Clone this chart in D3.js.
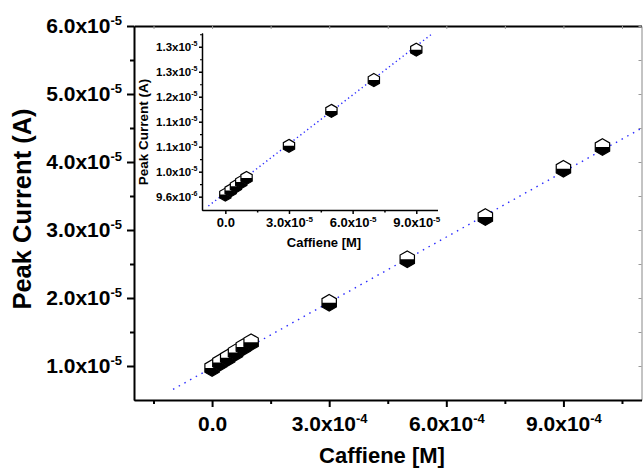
<!DOCTYPE html>
<html>
<head>
<meta charset="utf-8">
<script src="https://cdn.jsdelivr.net/npm/d3@7"></script>
<style>
body { margin: 0; background: #fff; }
svg { display: block; }
text { font-family: "Liberation Sans", Arial, sans-serif; font-weight: bold; fill: #000; }
</style>
</head>
<body>
<svg id="chart" width="643" height="469"></svg>
<script>
"use strict";

// main plot data (caffeine concentration in M, peak current in A)
const mainConc = [0, 2e-5, 4e-5, 6e-5, 8e-5, 1e-4, 3e-4, 5e-4, 7e-4, 9e-4, 1e-3];
const mainCurrent = [0.97e-5, 1.05e-5, 1.12e-5, 1.20e-5, 1.28e-5, 1.35e-5,
                     1.93e-5, 2.57e-5, 3.19e-5, 3.90e-5, 4.22e-5];
const mainFit = [9.76e-6, 0.0320];          // intercept, slope
const mainFitRange = [-1e-4, 1.1e-3];

// inset data
const insetConc = [0, 2.5e-6, 5e-6, 7.5e-6, 1e-5, 3e-5, 5e-5, 7e-5, 9e-5];
const insetCurrent = [9.65e-6, 9.75e-6, 9.85e-6, 9.95e-6, 10.05e-6,
                      10.82e-6, 11.66e-6, 12.40e-6, 13.13e-6];
const insetFit = [9.69e-6, 0.0392];
const insetFitRange = [-0.8e-5, 9.8e-5];

// ticks and labels
const mainXTicks = [0, 3e-4, 6e-4, 9e-4];
const mainXMant = ["0.0", "3.0x10", "6.0x10", "9.0x10"];
const mainXExp = ["", "-4", "-4", "-4"];
const mainXMinor = [-1.5e-4, 1.5e-4, 4.5e-4, 7.5e-4, 1.05e-3];
const mainYTicks = [1e-5, 2e-5, 3e-5, 4e-5, 5e-5, 6e-5];
const mainYMant = ["1.0x10", "2.0x10", "3.0x10", "4.0x10", "5.0x10", "6.0x10"];
const mainYExp = ["-5", "-5", "-5", "-5", "-5", "-5"];
const mainYMinor = [1.5e-5, 2.5e-5, 3.5e-5, 4.5e-5, 5.5e-5];

const insetXTicks = [0, 3e-5, 6e-5, 9e-5];
const insetXMant = ["0.0", "3.0x10", "6.0x10", "9.0x10"];
const insetXExp = ["", "-5", "-5", "-5"];
const insetXMinor = [1.5e-5, 4.5e-5, 7.5e-5];
const insetYTicks = [9.6e-6, 10.2e-6, 10.8e-6, 11.4e-6, 12.0e-6, 12.6e-6, 13.2e-6];
const insetYMant = ["9.6x10", "1.0x10", "1.1x10", "1.1x10", "1.2x10", "1.3x10", "1.3x10"];
const insetYExp = ["-6", "-5", "-5", "-5", "-5", "-5", "-5"];
const insetYMinor = [9.9e-6, 10.5e-6, 11.1e-6, 11.7e-6, 12.3e-6, 12.9e-6, 13.5e-6];

const svg = d3.select("#chart");

function hexPath(r) {
    const w = r * Math.sqrt(3) / 2;
    return d3.line()([[0, -r], [w, -r / 2], [w, r / 2], [0, r], [-w, r / 2], [-w, -r / 2]]) + "Z";
}
function lowerHalf(r) {
    const w = r * Math.sqrt(3) / 2;
    return d3.line()([[-w, 0], [w, 0], [w, r / 2], [0, r], [-w, r / 2]]) + "Z";
}

function labelTicks(g, mant, exp, supSize, supDy) {
    g.selectAll(".tick text").each(function(d, i) {
        const t = d3.select(this).text(null);
        t.append("tspan").text(mant[i]);
        if (exp[i]) t.append("tspan").attr("font-size", supSize).attr("dy", supDy).text(exp[i]);
    });
}

function drawMarkers(xs, ys, xScale, yScale, r) {
    const pts = xs.map((v, i) => [xScale(v), yScale(ys[i])]);
    const g = svg.append("g").selectAll("g").data(pts).join("g")
        .attr("transform", p => `translate(${p[0]},${p[1]})`);
    g.append("path").attr("d", hexPath(r)).attr("fill", "#fff");
    g.append("path").attr("d", lowerHalf(r)).attr("fill", "#000");
    g.append("path").attr("d", hexPath(r)).attr("fill", "none")
        .attr("stroke", "#000").attr("stroke-width", 1.2);
}

function drawFit(fit, range, xScale, yScale, dash) {
    const line = d3.line().x(d => xScale(d)).y(d => yScale(fit[0] + fit[1] * d));
    svg.append("path").attr("d", line(range))
        .attr("fill", "none").attr("stroke", "#2a2aff")
        .attr("stroke-width", 1.4).attr("stroke-dasharray", dash);
}

// ---------- main plot ----------
const x = d3.scaleLinear().domain([-2e-4, 1.1e-3]).range([134, 641.5]);
const y = d3.scaleLinear().domain([0.5e-5, 6e-5]).range([400, 26]);

// top & right frame
const topAx = svg.append("g").attr("transform", "translate(0,26)")
    .call(d3.axisBottom(x).tickValues(mainXTicks.concat(mainXMinor)).tickSize(3).tickSizeOuter(0).tickFormat(""));
topAx.select(".domain").attr("stroke-width", 2);
topAx.selectAll(".tick line").attr("stroke", "#999");
const rightAx = svg.append("g").attr("transform", "translate(641.5,0)")
    .call(d3.axisLeft(y).tickValues(mainYTicks.concat(mainYMinor)).tickSize(3).tickSizeOuter(0).tickFormat(""));
rightAx.select(".domain").attr("stroke", "#888");
rightAx.selectAll(".tick line").attr("stroke", "#999");

// bottom axis
const xMinorAx = svg.append("g").attr("transform", "translate(0,400)")
    .call(d3.axisBottom(x).tickValues(mainXMinor).tickSize(4).tickSizeOuter(0).tickFormat(""));
xMinorAx.selectAll("line").attr("stroke-width", 2);
const xAx = svg.append("g").attr("transform", "translate(0,400)")
    .call(d3.axisBottom(x).tickValues(mainXTicks).tickSize(7).tickSizeOuter(0).tickPadding(9));
xAx.select(".domain").attr("stroke-width", 2);
xAx.selectAll(".tick line").attr("stroke-width", 2);
xAx.selectAll("text").attr("font-size", 21).attr("font-family", null);
labelTicks(xAx, mainXMant, mainXExp, 13, -8);

// left axis
const yMinorAx = svg.append("g").attr("transform", "translate(134,0)")
    .call(d3.axisLeft(y).tickValues(mainYMinor).tickSize(4).tickSizeOuter(0).tickFormat(""));
yMinorAx.selectAll("line").attr("stroke-width", 2);
const yAx = svg.append("g").attr("transform", "translate(134,0)")
    .call(d3.axisLeft(y).tickValues(mainYTicks).tickSize(7).tickSizeOuter(0).tickPadding(5));
yAx.select(".domain").attr("stroke-width", 2);
yAx.selectAll(".tick line").attr("stroke-width", 2);
yAx.selectAll("text").attr("font-size", 21).attr("font-family", null);
labelTicks(yAx, mainYMant, mainYExp, 13, -8);

svg.append("text").attr("x", 382).attr("y", 463).attr("text-anchor", "middle")
    .attr("font-size", 22).text("Caffiene [M]");
svg.append("text").attr("transform", "translate(31,209) rotate(-90)").attr("text-anchor", "middle")
    .attr("font-size", 25.5).text("Peak Current (A)");

drawFit(mainFit, mainFitRange, x, y, "1.5,5");
drawMarkers(mainConc, mainCurrent, x, y, 8.3);

// ---------- inset ----------
const ix = d3.scaleLinear().domain([-1.1e-5, 1.0e-4]).range([202, 437.5]);
const iy = d3.scaleLinear().domain([9.28e-6, 13.53e-6]).range([210, 33]);

const ixMinorAx = svg.append("g").attr("transform", "translate(0,210)")
    .call(d3.axisBottom(ix).tickValues(insetXMinor).tickSize(2.5).tickSizeOuter(0).tickFormat(""));
ixMinorAx.selectAll("line").attr("stroke-width", 1.5);
const ixAx = svg.append("g").attr("transform", "translate(0,210)")
    .call(d3.axisBottom(ix).tickValues(insetXTicks).tickSize(4).tickSizeOuter(0).tickPadding(4));
ixAx.select(".domain").attr("stroke-width", 1.5);
ixAx.selectAll(".tick line").attr("stroke-width", 1.5);
ixAx.selectAll("text").attr("font-size", 13).attr("font-family", null);
labelTicks(ixAx, insetXMant, insetXExp, 8, -5);

const iyMinorAx = svg.append("g").attr("transform", "translate(202,0)")
    .call(d3.axisLeft(iy).tickValues(insetYMinor).tickSize(2).tickSizeOuter(0).tickFormat(""));
iyMinorAx.selectAll("line").attr("stroke-width", 1.2);
const iyAx = svg.append("g").attr("transform", "translate(202,0)")
    .call(d3.axisLeft(iy).tickValues(insetYTicks).tickSize(3).tickSizeOuter(0).tickPadding(1.5));
iyAx.select(".domain").attr("stroke-width", 1.5);
iyAx.selectAll(".tick line").attr("stroke-width", 1.5);
iyAx.selectAll("text").attr("font-size", 11.5).attr("font-family", null);
labelTicks(iyAx, insetYMant, insetYExp, 7, -4.5);

svg.append("text").attr("x", 324).attr("y", 247).attr("text-anchor", "middle")
    .attr("font-size", 13).text("Caffiene [M]");
svg.append("text").attr("transform", "translate(148,132) rotate(-90)").attr("text-anchor", "middle")
    .attr("font-size", 13.5).text("Peak Current (A)");

drawFit(insetFit, insetFitRange, ix, iy, "1.3,3");
drawMarkers(insetConc, insetCurrent, ix, iy, 6.5);
</script>
</body>
</html>
